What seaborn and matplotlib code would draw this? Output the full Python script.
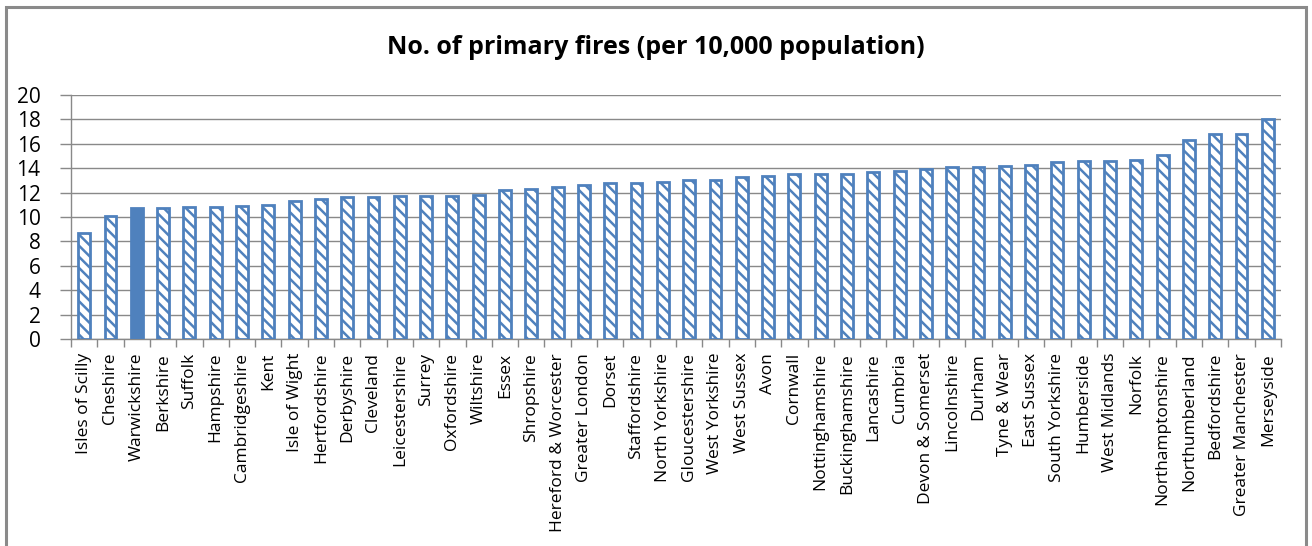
import matplotlib
matplotlib.use("Agg")
import matplotlib.pyplot as plt
import seaborn as sns
import pandas as pd
from matplotlib.patches import Rectangle
from matplotlib.ticker import FixedLocator

# Primary fires per 10,000 population, by fire authority area (sorted ascending)
areas = [
    "Isles of Scilly", "Cheshire", "Warwickshire", "Berkshire", "Suffolk",
    "Hampshire", "Cambridgeshire", "Kent", "Isle of Wight", "Hertfordshire",
    "Derbyshire", "Cleveland", "Leicestershire", "Surrey", "Oxfordshire",
    "Wiltshire", "Essex", "Shropshire", "Hereford & Worcester", "Greater London",
    "Dorset", "Staffordshire", "North Yorkshire", "Gloucestershire", "West Yorkshire",
    "West Sussex", "Avon", "Cornwall", "Nottinghamshire", "Buckinghamshire",
    "Lancashire", "Cumbria", "Devon & Somerset", "Lincolnshire", "Durham",
    "Tyne & Wear", "East Sussex", "South Yorkshire", "Humberside", "West Midlands",
    "Norfolk", "Northamptonshire", "Northumberland", "Bedfordshire",
    "Greater Manchester", "Merseyside",
]
fires_per_10k = [
    8.7, 10.1, 10.7, 10.7, 10.8,
    10.8, 10.9, 11.0, 11.3, 11.5,
    11.6, 11.6, 11.7, 11.7, 11.7,
    11.8, 12.2, 12.3, 12.5, 12.6,
    12.8, 12.8, 12.9, 13.0, 13.0,
    13.3, 13.4, 13.5, 13.5, 13.5,
    13.7, 13.8, 13.9, 14.1, 14.1,
    14.2, 14.3, 14.5, 14.6, 14.6,
    14.7, 15.1, 16.3, 16.8,
    16.8, 18.0,
]
highlight = "Warwickshire"
y_ticks = list(range(0, 21, 2))
title = "No. of primary fires (per 10,000 population)"

blue = "#4F81BD"
grey = "#898989"

sns.set_theme(style="white")
plt.rcParams["font.family"] = ["Open Sans", "DejaVu Sans"]
plt.rcParams["hatch.color"] = blue
plt.rcParams["hatch.linewidth"] = 1.8

df = pd.DataFrame({"area": areas, "value": fires_per_10k})

fig = plt.figure(figsize=(13.12, 5.46), dpi=100)
ax = fig.add_axes([71 / 1312, 207 / 546, 1210 / 1312, 244 / 546])

sns.barplot(data=df, x="area", y="value", color="white", edgecolor=blue,
            linewidth=2, width=0.45, saturation=1, ax=ax, zorder=3)

for name, bar in zip(areas, ax.patches):
    if name == highlight:
        bar.set_facecolor(blue)
        bar.set_hatch(None)
    else:
        bar.set_facecolor("white")
        bar.set_hatch("\\\\\\")

n = len(areas)
ax.set_xlim(-0.5, n - 0.5)
ax.set_ylim(0, 20)
ax.set_yticks(y_ticks)
ax.set_yticklabels([str(t) for t in y_ticks], fontsize=15, color="black")
ax.yaxis.grid(True, color=grey, linewidth=1)
ax.set_axisbelow(True)

ax.set_xticks(range(n))
ax.set_xticklabels(areas, rotation=90, fontsize=12.5, color="black")
ax.xaxis.set_minor_locator(FixedLocator([i - 0.5 for i in range(n + 1)]))
ax.tick_params(axis="x", which="major", length=0, pad=10)
ax.tick_params(axis="x", which="minor", length=6, width=1, color=grey, bottom=True)
ax.tick_params(axis="y", which="major", length=8, width=1, color=grey, left=True, pad=14)
ax.set_xlabel("")
ax.set_ylabel("")

for side in ("top", "right"):
    ax.spines[side].set_visible(False)
for side in ("left", "bottom"):
    ax.spines[side].set_color(grey)
    ax.spines[side].set_linewidth(1)

fig.text(656 / 1312, 1 - 47 / 546, title, ha="center", va="center",
         fontsize=18, fontweight="bold", color="black")

# chart frame
fig.patches.append(Rectangle((6 / 1312, -0.02), 1300 / 1312, 1 - 7 / 546 + 0.02,
                             transform=fig.transFigure, fill=False,
                             edgecolor="#8a8a8a", linewidth=2.2))

fig.savefig("out.png", dpi=100, facecolor="white")
